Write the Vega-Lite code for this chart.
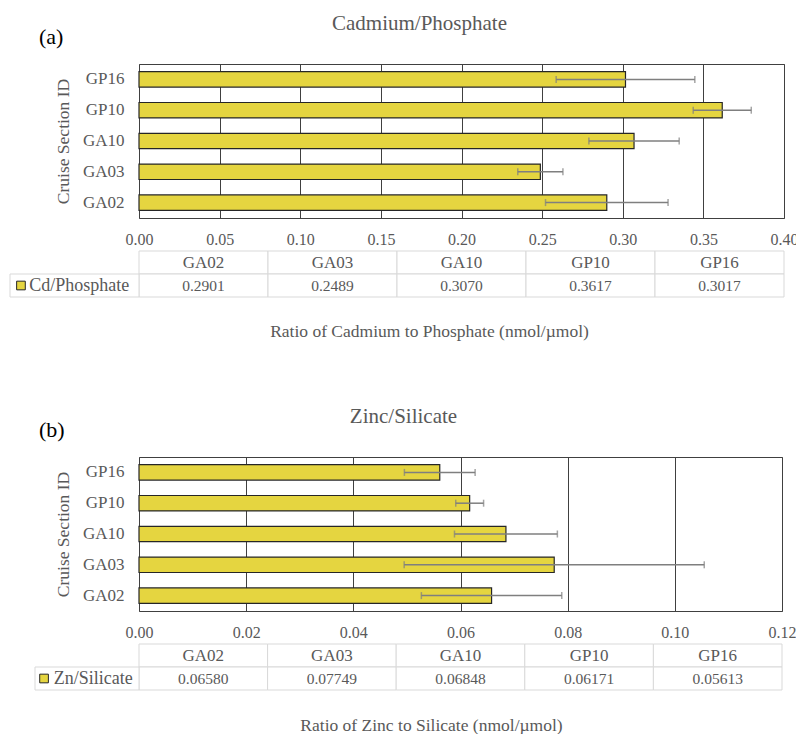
{
  "$schema": "https://vega.github.io/schema/vega-lite/v6.json",
  "background": "white",
  "padding": {"left": 9, "top": 12, "right": 0, "bottom": 0},
  "autosize": {"type": "pad"},
  "config": {
    "font": "'Liberation Serif', 'Times New Roman', 'DejaVu Serif', serif",
    "view": {"stroke": "#404040", "strokeWidth": 1},
    "axis": {"labelFont": "'Liberation Serif', 'Times New Roman', 'DejaVu Serif', serif", "titleFont": "'Liberation Serif', 'Times New Roman', 'DejaVu Serif', serif", "labelColor": "#595959", "titleColor": "#595959", "titleFontWeight": "normal", "gridColor": "#404040", "gridOpacity": 1, "gridWidth": 1},
    "title": {"font": "'Liberation Serif', 'Times New Roman', 'DejaVu Serif', serif", "color": "#595959", "fontWeight": "normal"},
    "text": {"font": "'Liberation Serif', 'Times New Roman', 'DejaVu Serif', serif"}
  },
  "datasets": {
    "cd": [
      {"cruise": "GA02", "ratio": 0.2901, "err": 0.038},
      {"cruise": "GA03", "ratio": 0.2489, "err": 0.014},
      {"cruise": "GA10", "ratio": 0.3070, "err": 0.028},
      {"cruise": "GP10", "ratio": 0.3617, "err": 0.018},
      {"cruise": "GP16", "ratio": 0.3017, "err": 0.043}
    ],
    "zn": [
      {"cruise": "GA02", "ratio": 0.06580, "err": 0.0131},
      {"cruise": "GA03", "ratio": 0.07749, "err": 0.028},
      {"cruise": "GA10", "ratio": 0.06848, "err": 0.0096},
      {"cruise": "GP10", "ratio": 0.06171, "err": 0.0026},
      {"cruise": "GP16", "ratio": 0.05613, "err": 0.0066}
    ],
    "cdLabel": [{"series": "Cd/Phosphate"}],
    "znLabel": [{"series": "Zn/Silicate"}]
  },
  "spacing": 65,
  "vconcat": [
    {
      "title": {"text": "(a)", "anchor": "start", "frame": "group", "dx": -100, "offset": -36, "fontSize": 22, "color": "#000000"},
      "spacing": 2,
      "vconcat": [
        {
          "width": 645,
          "height": 154,
          "title": {"text": "Cadmium/Phosphate", "anchor": "middle", "frame": "group", "dx": -42, "offset": 30, "fontSize": 21},
          "data": {"name": "cd"},
          "encoding": {
            "y": {"field": "cruise", "type": "nominal", "sort": ["GP16", "GP10", "GA10", "GA03", "GA02"],
              "scale": {"paddingInner": 0.5, "paddingOuter": 0.25},
              "axis": {"title": "Cruise Section ID", "labelFontSize": 17, "labelPadding": 15, "titleFontSize": 17.5, "titlePadding": 10, "ticks": false, "domain": false}},
            "x": {"field": "ratio", "type": "quantitative", "scale": {"domain": [0, 0.4], "nice": false},
              "axis": {"values": [0, 0.05, 0.1, 0.15, 0.2, 0.25, 0.3, 0.35, 0.4], "format": ".2f", "title": null, "grid": true, "ticks": false, "domain": false, "labelFontSize": 16, "labelPadding": 13, "labelFlush": false}}
          },
          "layer": [
            {"mark": {"type": "bar", "fill": "#E5D540", "stroke": "#262626", "strokeWidth": 1.2}},
            {"mark": {"type": "errorbar", "ticks": true, "size": 7, "thickness": 1.5, "color": "#7f7f7f"}, "encoding": {"xError": {"field": "err"}}}
          ]
        },
        {
          "width": 645,
          "height": 46,
          "view": {"stroke": null},
          "layer": [
            {
              "data": {"name": "cd"},
              "encoding": {
                "x": {"field": "cruise", "type": "nominal", "sort": ["GA02", "GA03", "GA10", "GP10", "GP16"],
                  "scale": {"type": "band", "paddingInner": 0, "paddingOuter": 0},
                  "axis": {"title": "Ratio of Cadmium to Phosphate (nmol/µmol)", "labels": false, "ticks": false, "domain": false, "grid": false, "titlePadding": 25, "titleFontSize": 17.5, "titleX": 290}}
              },
              "layer": [
                {"mark": {"type": "rect", "fill": "white", "stroke": "#d9d9d9", "strokeWidth": 1},
                  "encoding": {"y": {"datum": "header", "type": "nominal", "scale": {"type": "band", "domain": ["header", "value"], "paddingInner": 0, "paddingOuter": 0}, "axis": null}}},
                {"mark": {"type": "rect", "fill": "white", "stroke": "#d9d9d9", "strokeWidth": 1},
                  "encoding": {"y": {"datum": "value", "type": "nominal"}}},
                {"mark": {"type": "text", "fontSize": 17, "color": "#595959"},
                  "encoding": {"y": {"datum": "header", "type": "nominal"}, "text": {"field": "cruise"}}},
                {"mark": {"type": "text", "fontSize": 15.5, "color": "#595959"},
                  "encoding": {"y": {"datum": "value", "type": "nominal"}, "text": {"field": "ratio", "type": "quantitative", "format": ".4f"}}}
              ]
            },
            {
              "data": {"name": "cdLabel"},
              "encoding": {
                "x": {"field": "series", "type": "nominal", "scale": {"type": "band", "range": [-129, 0], "paddingInner": 0, "paddingOuter": 0}, "axis": null},
                "y": {"datum": "value", "type": "nominal"}
              },
              "layer": [
                {"mark": {"type": "rect", "fill": "white", "stroke": "#d9d9d9", "strokeWidth": 1}},
                {"mark": {"type": "point", "shape": "square", "filled": true, "size": 75, "fill": "#E5D540", "stroke": "#262626", "strokeWidth": 1, "opacity": 1},
                  "encoding": {"x": {"field": "series", "type": "nominal", "bandPosition": 0.085}}},
                {"mark": {"type": "text", "align": "left", "fontSize": 18, "color": "#595959"},
                  "encoding": {"x": {"field": "series", "type": "nominal", "bandPosition": 0.15}, "text": {"field": "series"}}}
              ]
            }
          ],
          "resolve": {"scale": {"x": "independent"}}
        }
      ]
    },
    {
      "title": {"text": "(b)", "anchor": "start", "frame": "group", "dx": -100, "offset": -36, "fontSize": 22, "color": "#000000"},
      "spacing": 2,
      "vconcat": [
        {
          "width": 643,
          "height": 154,
          "title": {"text": "Zinc/Silicate", "anchor": "middle", "frame": "group", "dx": -57, "offset": 30, "fontSize": 21},
          "data": {"name": "zn"},
          "encoding": {
            "y": {"field": "cruise", "type": "nominal", "sort": ["GP16", "GP10", "GA10", "GA03", "GA02"],
              "scale": {"paddingInner": 0.5, "paddingOuter": 0.25},
              "axis": {"title": "Cruise Section ID", "labelFontSize": 17, "labelPadding": 15, "titleFontSize": 17.5, "titlePadding": 10, "ticks": false, "domain": false}},
            "x": {"field": "ratio", "type": "quantitative", "scale": {"domain": [0, 0.12], "nice": false},
              "axis": {"values": [0, 0.02, 0.04, 0.06, 0.08, 0.1, 0.12], "format": ".2f", "title": null, "grid": true, "ticks": false, "domain": false, "labelFontSize": 16, "labelPadding": 13, "labelFlush": false}}
          },
          "layer": [
            {"mark": {"type": "bar", "fill": "#E5D540", "stroke": "#262626", "strokeWidth": 1.2}},
            {"mark": {"type": "errorbar", "ticks": true, "size": 7, "thickness": 1.5, "color": "#7f7f7f"}, "encoding": {"xError": {"field": "err"}}}
          ]
        },
        {
          "width": 643,
          "height": 46,
          "view": {"stroke": null},
          "layer": [
            {
              "data": {"name": "zn"},
              "encoding": {
                "x": {"field": "cruise", "type": "nominal", "sort": ["GA02", "GA03", "GA10", "GP10", "GP16"],
                  "scale": {"type": "band", "paddingInner": 0, "paddingOuter": 0},
                  "axis": {"title": "Ratio of Zinc to Silicate (nmol/µmol)", "labels": false, "ticks": false, "domain": false, "grid": false, "titlePadding": 26, "titleFontSize": 17.5, "titleX": 292}}
              },
              "layer": [
                {"mark": {"type": "rect", "fill": "white", "stroke": "#d9d9d9", "strokeWidth": 1},
                  "encoding": {"y": {"datum": "header", "type": "nominal", "scale": {"type": "band", "domain": ["header", "value"], "paddingInner": 0, "paddingOuter": 0}, "axis": null}}},
                {"mark": {"type": "rect", "fill": "white", "stroke": "#d9d9d9", "strokeWidth": 1},
                  "encoding": {"y": {"datum": "value", "type": "nominal"}}},
                {"mark": {"type": "text", "fontSize": 17, "color": "#595959"},
                  "encoding": {"y": {"datum": "header", "type": "nominal"}, "text": {"field": "cruise"}}},
                {"mark": {"type": "text", "fontSize": 15.5, "color": "#595959"},
                  "encoding": {"y": {"datum": "value", "type": "nominal"}, "text": {"field": "ratio", "type": "quantitative", "format": ".5f"}}}
              ]
            },
            {
              "data": {"name": "znLabel"},
              "encoding": {
                "x": {"field": "series", "type": "nominal", "scale": {"type": "band", "range": [-104, 0], "paddingInner": 0, "paddingOuter": 0}, "axis": null},
                "y": {"datum": "value", "type": "nominal"}
              },
              "layer": [
                {"mark": {"type": "rect", "fill": "white", "stroke": "#d9d9d9", "strokeWidth": 1}},
                {"mark": {"type": "point", "shape": "square", "filled": true, "size": 75, "fill": "#E5D540", "stroke": "#262626", "strokeWidth": 1, "opacity": 1},
                  "encoding": {"x": {"field": "series", "type": "nominal", "bandPosition": 0.087}}},
                {"mark": {"type": "text", "align": "left", "fontSize": 18, "color": "#595959"},
                  "encoding": {"x": {"field": "series", "type": "nominal", "bandPosition": 0.18}, "text": {"field": "series"}}}
              ]
            }
          ],
          "resolve": {"scale": {"x": "independent"}}
        }
      ]
    }
  ]
}
